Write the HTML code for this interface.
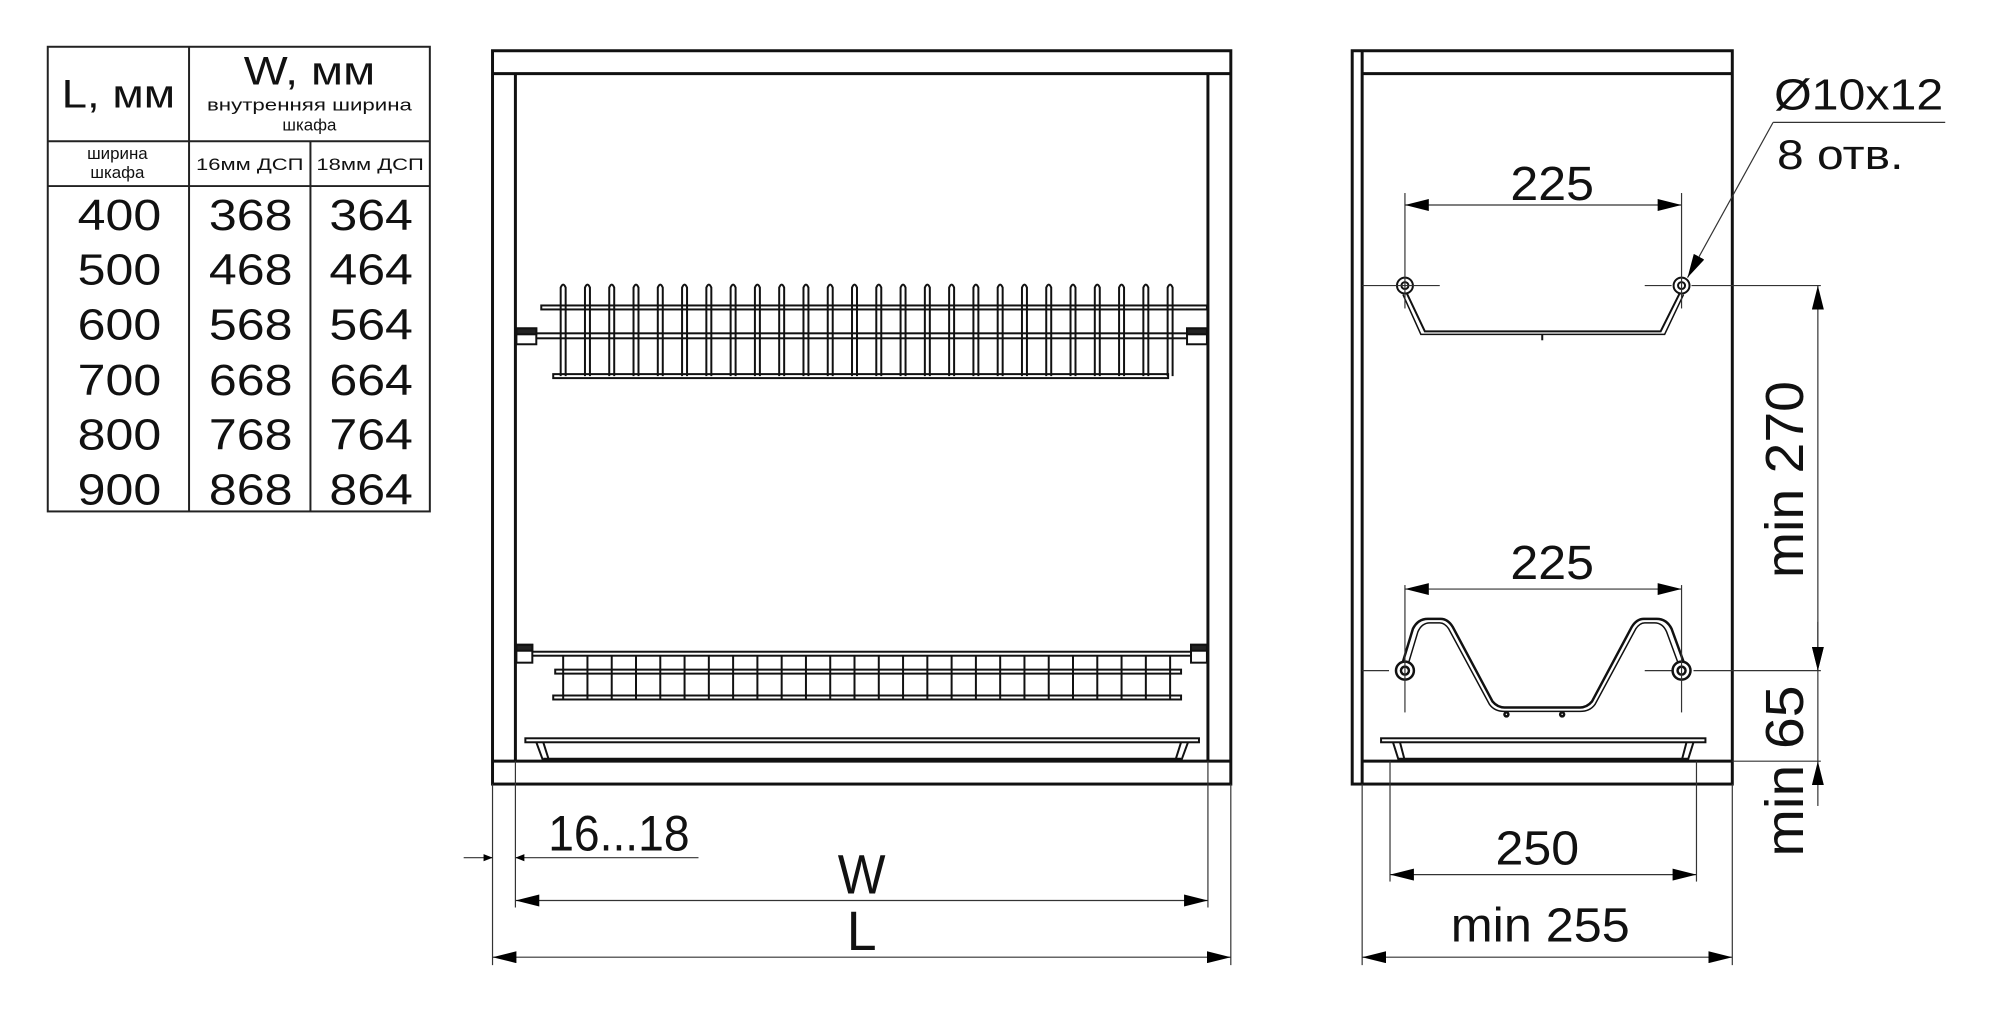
<!DOCTYPE html>
<html><head><meta charset="utf-8">
<style>
html,body{margin:0;padding:0;background:#fff;}
svg{display:block;}
text{font-family:"Liberation Sans",sans-serif;fill:#111;}
</style></head>
<body>
<svg id="s" width="2000" height="1013" viewBox="0 0 2000 1013" xmlns="http://www.w3.org/2000/svg">
<defs>
<marker id="a" viewBox="0 0 10 10" refX="10" refY="5" markerWidth="9" markerHeight="9" orient="auto-start-reverse" markerUnits="userSpaceOnUse"><path d="M0,1 L10,5 L0,9 z" fill="#000"/></marker>
<marker id="b" viewBox="0 0 24 12" refX="24" refY="6" markerWidth="24" markerHeight="12" orient="auto-start-reverse" markerUnits="userSpaceOnUse"><path d="M0,0 L24,6 L0,12 z" fill="#000"/></marker>
</defs>
<g transform="scale(0.995)">
<!-- TABLE -->
<g stroke="#222" stroke-width="2" fill="none">
<rect x="48" y="47" width="384" height="467"/>
<line x1="190" y1="47" x2="190" y2="514"/>
<line x1="312" y1="142" x2="312" y2="514"/>
<line x1="48" y1="142" x2="432" y2="142"/>
<line x1="48" y1="187" x2="432" y2="187"/>
</g>
<text x="119" y="108" font-size="40" text-anchor="middle" textLength="114" lengthAdjust="spacingAndGlyphs">L, мм</text>
<text x="311" y="85" font-size="40" text-anchor="middle" textLength="132" lengthAdjust="spacingAndGlyphs">W, мм</text>
<text x="311" y="111" font-size="17" text-anchor="middle" textLength="206" lengthAdjust="spacingAndGlyphs">внутренняя ширина</text>
<text x="311" y="131" font-size="17" text-anchor="middle">шкафа</text>
<text x="118" y="160" font-size="17" text-anchor="middle">ширина</text>
<text x="118" y="179" font-size="17" text-anchor="middle">шкафа</text>
<text x="251" y="171" font-size="17" text-anchor="middle" textLength="108" lengthAdjust="spacingAndGlyphs">16мм ДСП</text>
<text x="372" y="171" font-size="17" text-anchor="middle" textLength="108" lengthAdjust="spacingAndGlyphs">18мм ДСП</text>
<g font-size="44" text-anchor="middle">
<text x="120" y="231" textLength="84" lengthAdjust="spacingAndGlyphs">400</text><text x="252" y="231" textLength="84" lengthAdjust="spacingAndGlyphs">368</text><text x="373" y="231" textLength="84" lengthAdjust="spacingAndGlyphs">364</text>
<text x="120" y="286" textLength="84" lengthAdjust="spacingAndGlyphs">500</text><text x="252" y="286" textLength="84" lengthAdjust="spacingAndGlyphs">468</text><text x="373" y="286" textLength="84" lengthAdjust="spacingAndGlyphs">464</text>
<text x="120" y="341" textLength="84" lengthAdjust="spacingAndGlyphs">600</text><text x="252" y="341" textLength="84" lengthAdjust="spacingAndGlyphs">568</text><text x="373" y="341" textLength="84" lengthAdjust="spacingAndGlyphs">564</text>
<text x="120" y="397" textLength="84" lengthAdjust="spacingAndGlyphs">700</text><text x="252" y="397" textLength="84" lengthAdjust="spacingAndGlyphs">668</text><text x="373" y="397" textLength="84" lengthAdjust="spacingAndGlyphs">664</text>
<text x="120" y="452" textLength="84" lengthAdjust="spacingAndGlyphs">800</text><text x="252" y="452" textLength="84" lengthAdjust="spacingAndGlyphs">768</text><text x="373" y="452" textLength="84" lengthAdjust="spacingAndGlyphs">764</text>
<text x="120" y="507" textLength="84" lengthAdjust="spacingAndGlyphs">900</text><text x="252" y="507" textLength="84" lengthAdjust="spacingAndGlyphs">868</text><text x="373" y="507" textLength="84" lengthAdjust="spacingAndGlyphs">864</text>
</g>

<!-- FRONT CABINET -->
<g stroke="#111" stroke-width="3" fill="none">
<rect x="495" y="51" width="742" height="737"/>
<line x1="495" y1="74" x2="1237" y2="74"/>
<line x1="518" y1="74" x2="518" y2="765"/>
<line x1="1214" y1="74" x2="1214" y2="765"/>
<line x1="495" y1="765" x2="1237" y2="765"/>
</g>
<g stroke="#111" stroke-width="2" fill="none">
<rect x="544" y="307" width="669" height="4"/>
<rect x="519" y="335" width="694" height="5"/>
<rect x="556" y="376" width="618" height="4"/>
<rect x="519" y="330" width="20" height="16" fill="#fff"/>
<rect x="1193" y="330" width="20" height="16" fill="#fff"/>
<rect x="519" y="330" width="20" height="6" fill="#222"/>
<rect x="1193" y="330" width="20" height="6" fill="#222"/>
</g>
<g id="spikes" stroke="#111" stroke-width="2" fill="none"></g>
<g stroke="#111" stroke-width="2" fill="none">
<rect x="519" y="655" width="694" height="4"/>
<rect x="558" y="673" width="629" height="4"/>
<rect x="556" y="699" width="631" height="4"/>
<rect x="519" y="648" width="16" height="18" fill="#fff"/>
<rect x="1197" y="648" width="16" height="18" fill="#fff"/>
<rect x="519" y="648" width="16" height="6" fill="#222"/>
<rect x="1197" y="648" width="16" height="6" fill="#222"/>
</g>
<g id="bars" stroke="#111" stroke-width="2"></g>
<g stroke="#111" stroke-width="2" fill="none">
<rect x="528" y="742" width="677" height="4"/>
<path d="M539,746 L546,765 M546,746 L552,765 M1194,746 L1187,765 M1187,746 L1181,765"/>
<line x1="546" y1="763" x2="1187" y2="763" stroke-width="3"/>
</g>

<g stroke="#333" stroke-width="1.2" fill="none">
<line x1="495" y1="788" x2="495" y2="970"/>
<line x1="518" y1="765" x2="518" y2="912"/>
<line x1="1214" y1="765" x2="1214" y2="912"/>
<line x1="1237" y1="788" x2="1237" y2="970"/>
<line x1="466" y1="862" x2="495" y2="862" marker-end="url(#a)"/>
<line x1="702" y1="862" x2="518" y2="862" marker-end="url(#a)"/>
<line x1="518" y1="905" x2="1214" y2="905" marker-start="url(#b)" marker-end="url(#b)"/>
<line x1="495" y1="962" x2="1237" y2="962" marker-start="url(#b)" marker-end="url(#b)"/>
</g>
<text x="622" y="855" font-size="50" text-anchor="middle" textLength="142" lengthAdjust="spacingAndGlyphs">16...18</text>
<text x="866" y="898" font-size="56" text-anchor="middle" textLength="48" lengthAdjust="spacingAndGlyphs">W</text>
<text x="866" y="955" font-size="56" text-anchor="middle" textLength="30" lengthAdjust="spacingAndGlyphs">L</text>

<!-- SIDE CABINET -->
<g stroke="#111" stroke-width="3" fill="none">
<rect x="1359" y="51" width="382" height="737"/>
<line x1="1369" y1="51" x2="1369" y2="788"/>
<line x1="1369" y1="74" x2="1741" y2="74"/>
<line x1="1369" y1="765" x2="1741" y2="765"/>
</g>
<g stroke="#111" stroke-width="2" fill="none">
<circle cx="1412" cy="287" r="8"/><circle cx="1412" cy="287" r="3.5"/>
<circle cx="1690" cy="287" r="8"/><circle cx="1690" cy="287" r="3.5"/>
<path d="M1414,295 L1432,333 L1669,333 L1688,295"/>
<path d="M1410,296 L1428,336 L1673,336 L1692,296" stroke-width="1.5"/>
<line x1="1550" y1="336" x2="1550" y2="342"/>
</g>
<g stroke="#111" stroke-width="2.5" fill="none">
<circle cx="1412" cy="674" r="9"/><circle cx="1412" cy="674" r="4"/>
<circle cx="1690" cy="674" r="9"/><circle cx="1690" cy="674" r="4"/>
<path d="M1410,665 L1420,632 Q1425,622 1435,622 L1448,622 Q1455,622 1460,630 L1500,705 Q1505,711 1512,711 L1588,711 Q1595,711 1600,705 L1640,630 Q1645,622 1652,622 L1665,622 Q1675,622 1680,632 L1692,665"/>
<path d="M1416,665 L1425,635 Q1429,626 1437,626 L1447,626 Q1452,626 1456,632 L1497,708 Q1502,715 1512,715 L1588,715 Q1598,715 1603,708 L1644,632 Q1648,626 1653,626 L1663,626 Q1671,626 1675,635 L1686,665" stroke-width="1.5"/>
<circle cx="1514" cy="718" r="2"/><circle cx="1570" cy="718" r="2"/>
</g>
<g stroke="#111" stroke-width="2" fill="none">
<rect x="1388" y="742" width="326" height="4"/>
<path d="M1400,746 L1406,765 M1407,746 L1412,765 M1702,746 L1696,765 M1695,746 L1690,765"/>
<line x1="1406" y1="763" x2="1696" y2="763" stroke-width="3"/>
</g>
<g stroke="#333" stroke-width="1.2" fill="none">
<line x1="1369" y1="287" x2="1447" y2="287"/>
<line x1="1653" y1="287" x2="1680" y2="287"/>
<line x1="1700" y1="287" x2="1830" y2="287"/>
<line x1="1412" y1="194" x2="1412" y2="310"/>
<line x1="1690" y1="194" x2="1690" y2="310"/>
<line x1="1412" y1="206" x2="1690" y2="206" marker-start="url(#b)" marker-end="url(#b)"/>
<line x1="1369" y1="674" x2="1396" y2="674"/>
<line x1="1653" y1="674" x2="1680" y2="674"/>
<line x1="1702" y1="674" x2="1830" y2="674"/>
<line x1="1412" y1="588" x2="1412" y2="716"/>
<line x1="1690" y1="588" x2="1690" y2="716"/>
<line x1="1412" y1="592" x2="1690" y2="592" marker-start="url(#b)" marker-end="url(#b)"/>
<line x1="1827" y1="287" x2="1827" y2="674" marker-start="url(#b)" marker-end="url(#b)"/>
<line x1="1741" y1="765" x2="1830" y2="765"/>
<line x1="1827" y1="625" x2="1827" y2="674" marker-end="url(#b)"/>
<line x1="1827" y1="810" x2="1827" y2="765" marker-end="url(#b)"/>
<line x1="1827" y1="674" x2="1827" y2="765"/>
<line x1="1397" y1="765" x2="1397" y2="886"/>
<line x1="1705" y1="765" x2="1705" y2="886"/>
<line x1="1397" y1="879" x2="1705" y2="879" marker-start="url(#b)" marker-end="url(#b)"/>
<line x1="1369" y1="788" x2="1369" y2="970"/>
<line x1="1741" y1="788" x2="1741" y2="970"/>
<line x1="1369" y1="962" x2="1741" y2="962" marker-start="url(#b)" marker-end="url(#b)"/>
<line x1="1782" y1="123" x2="1955" y2="123"/>
<line x1="1782" y1="123" x2="1696" y2="279" marker-end="url(#b)"/>
</g>
<text x="1560" y="201" font-size="48" text-anchor="middle" textLength="84" lengthAdjust="spacingAndGlyphs">225</text>
<text x="1560" y="582" font-size="48" text-anchor="middle" textLength="84" lengthAdjust="spacingAndGlyphs">225</text>
<text x="1545" y="869" font-size="48" text-anchor="middle" textLength="84" lengthAdjust="spacingAndGlyphs">250</text>
<text x="1548" y="946" font-size="48" text-anchor="middle" textLength="180" lengthAdjust="spacingAndGlyphs">min 255</text>
<text x="1868" y="110" font-size="44" text-anchor="middle" textLength="170" lengthAdjust="spacingAndGlyphs">Ø10x12</text>
<text x="1786" y="170" font-size="42" textLength="127" lengthAdjust="spacingAndGlyphs">8 отв.</text>
<text transform="translate(1812,482) rotate(-90)" font-size="54" text-anchor="middle" textLength="198" lengthAdjust="spacingAndGlyphs">min 270</text>
<text transform="translate(1812,775) rotate(-90)" font-size="54" text-anchor="middle" textLength="172" lengthAdjust="spacingAndGlyphs">min 65</text>
</g>
</svg>
<script>
var NS="http://www.w3.org/2000/svg";
var sp=document.getElementById("spikes");
for(var i=0;i<26;i++){var x=566+i*24.4;
 var p=document.createElementNS(NS,"path");
 p.setAttribute("d","M"+(x-2.5)+",378 L"+(x-2.5)+",289 Q"+x+",283 "+(x+2.5)+",289 L"+(x+2.5)+",378");
 sp.appendChild(p);}
var br=document.getElementById("bars");
for(var j=0;j<26;j++){var x2=566+j*24.4;
 var l=document.createElementNS(NS,"line");
 l.setAttribute("x1",x2);l.setAttribute("x2",x2);l.setAttribute("y1",659);l.setAttribute("y2",703);
 br.appendChild(l);}
</script>
</body></html>
